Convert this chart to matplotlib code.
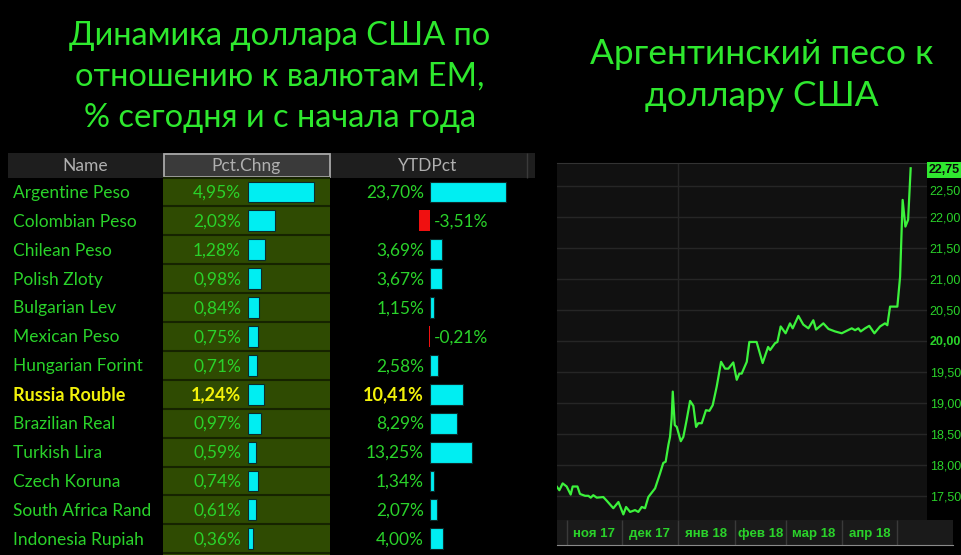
import numpy as np
import matplotlib
matplotlib.use("Agg")
import matplotlib.pyplot as plt
from matplotlib.patches import Rectangle
from matplotlib.transforms import blended_transform_factory

# table data (left panel)
names = ["Argentine Peso", "Colombian Peso", "Chilean Peso", "Polish Zloty",
         "Bulgarian Lev", "Mexican Peso", "Hungarian Forint", "Russia Rouble",
         "Brazilian Real", "Turkish Lira", "Czech Koruna", "South Africa Rand",
         "Indonesia Rupiah"]
pct_chng = [4.95, 2.03, 1.28, 0.98, 0.84, 0.75, 0.71, 1.24, 0.97, 0.59, 0.74, 0.61, 0.36]
ytd_pct = [23.70, -3.51, 3.69, 3.67, 1.15, -0.21, 2.58, 10.41, 8.29, 13.25, 1.34, 2.07, 4.00]
highlight = "Russia Rouble"
headers = ["Name", "Pct.Chng", "YTDPct"]

# USD/ARS line (days counted from 1 Nov 2017)
days = [-5.7, -4.2, -2.4, -0.2, 2.0, 3.1, 5.7, 7.1, 9.9, 11.7, 13.0, 14.4, 16.3, 19.9,
        21.8, 25.4, 28.2, 30.9, 32.4, 34.6, 37.3, 39.1, 41.0, 42.8, 44.6, 48.3, 51.0,
        52.8, 54.1, 55.6, 56.5, 57.4, 58.0, 59.1, 60.2, 62.4, 63.8, 65.6, 67.5, 69.3,
        70.8, 72.0, 73.9, 76.2, 78.1, 79.9, 82.1, 84.5, 86.7, 88.5, 91.2, 93.1, 94.5,
        95.8, 98.6, 100.0, 104.0, 107.3, 110.3, 111.4, 114.1, 115.4, 117.2, 119.9,
        122.3, 123.8, 126.9, 129.6, 132.4, 135.1, 136.6, 140.6, 143.4, 147.0, 150.7,
        153.4, 156.2, 158.0, 159.8, 161.1, 163.5, 165.8, 168.6, 171.7, 174.4, 175.7,
        177.2, 181.2, 182.7, 184.1, 185.6, 187.1, 188.5]
peso = [17.65, 17.59, 17.70, 17.65, 17.52, 17.65, 17.65, 17.53, 17.50, 17.50, 17.47,
        17.51, 17.47, 17.48, 17.42, 17.30, 17.40, 17.20, 17.32, 17.24, 17.27, 17.24,
        17.32, 17.30, 17.48, 17.62, 17.86, 18.03, 18.05, 18.32, 18.45, 18.75, 19.18,
        18.64, 18.61, 18.38, 18.45, 18.72, 19.03, 18.95, 18.61, 18.67, 18.67, 18.88,
        18.87, 18.96, 19.26, 19.66, 19.55, 19.55, 19.65, 19.37, 19.47, 19.47, 19.66,
        19.98, 19.98, 19.64, 19.90, 19.85, 19.96, 19.98, 20.23, 20.12, 20.28, 20.20,
        20.40, 20.26, 20.20, 20.33, 20.18, 20.28, 20.19, 20.15, 20.12, 20.16, 20.20,
        20.17, 20.20, 20.15, 20.20, 20.24, 20.12, 20.23, 20.28, 20.25, 20.55, 20.55,
        21.03, 22.27, 21.84, 21.95, 22.78]
month_starts = [0, 30, 61, 92, 120, 151, 181]
month_labels = ["ноя 17", "дек 17", "янв 18", "фев 18", "мар 18", "апр 18"]
y_levels = [17.5, 18.0, 18.5, 19.0, 19.5, 20.0, 20.5, 21.0, 21.5, 22.0, 22.5]
last_value = 22.75

W, H = 962, 555
TITLE_GREEN = "#2ee82e"
GREEN = "#2ad22a"
OLIVE = "#2f4b02"
CYAN = "#00eef2"
AXFONT = ["Liberation Sans", "DejaVu Sans"]

plt.rcParams["font.family"] = ["Lato", "Open Sans", "DejaVu Sans"]


def box(x0, y0, x1, y1):
    # pixel box (top-left origin) -> figure fraction
    return [x0 / W, 1 - y1 / H, (x1 - x0) / W, (y1 - y0) / H]


def fmt(v):
    return f"{v:.2f}".replace(".", ",") + "%"


fig = plt.figure(figsize=(W / 100, H / 100), dpi=100, facecolor="black")

fig.text(280 / W, 1 - 77 / H, "Динамика доллара США по\nотношению к валютам EM,\n% сегодня и с начала года",
         ha="center", va="center", color=TITLE_GREEN, fontsize=23.5, linespacing=1.45)
fig.text(762 / W, 1 - 75 / H, "Аргентинский песо к\nдоллару США",
         ha="center", va="center", color=TITLE_GREEN, fontsize=25.5, linespacing=1.4)

# ---------- table ----------
ROW0, ROW_H = 192, 28.9


def row_of(py):
    return (py - ROW0) / ROW_H


ylim = (row_of(555), row_of(150))
rows = np.arange(len(names))

tab = fig.add_axes(box(0, 150, 540, 555))
tab.set_xlim(0, 540)
tab.set_ylim(*ylim)
tab.axis("off")

tab.add_patch(Rectangle((163, -0.5), 167, 14, fc=OLIVE, ec="none"))
tab.hlines(np.arange(-0.5, 13.6, 1), 163, 330, color="#162300", lw=1.5)
tab.add_patch(Rectangle((8, row_of(153)), 527, row_of(177.5) - row_of(153), fc="#1e1e1e", ec="none"))
tab.vlines(527, row_of(153), row_of(177.5), color="#3a3a3a", lw=1)
tab.add_patch(Rectangle((163.5, row_of(154)), 166, row_of(177) - row_of(154),
                        fc="#3a3a3a", ec="#a8a8a8", lw=1.3))
for x, h in zip([85, 246, 428], headers):
    tab.text(x, row_of(166), h, ha="center", va="center", color="#b0b0b0", fontsize=12.5)

for i, (n, p, y) in enumerate(zip(names, pct_chng, ytd_pct)):
    hl = n == highlight
    col = "#f2f20a" if hl else GREEN
    w = "bold" if hl else "normal"
    fs = 13 if hl else 12.5
    tab.text(13, i + 0.03, n, ha="left", va="center", color=col, fontsize=fs, fontweight=w)
    tab.text(241, i + 0.03, fmt(p), ha="right", va="center", color=col, fontsize=fs, fontweight=w)
    if y >= 0:
        tab.text(424, i + 0.03, fmt(y), ha="right", va="center", color=col, fontsize=fs, fontweight=w)
    else:
        tab.text(434, i + 0.03, fmt(y), ha="left", va="center", color=col, fontsize=fs, fontweight=w)

ax_pct = fig.add_axes(box(248, 150, 330, 555))
ax_pct.set_xlim(0, 82 / 13.3)
ax_pct.set_ylim(*ylim)
ax_pct.barh(rows, pct_chng, height=0.72, color=CYAN, edgecolor="#0b2a2a", lw=0.8)
ax_pct.axis("off")

ax_ytd = fig.add_axes(box(330, 150, 530, 555))
ax_ytd.set_xlim(-100 / 3.2, 100 / 3.2)
ax_ytd.set_ylim(*ylim)
ax_ytd.barh(rows, ytd_pct, height=0.72,
            color=[CYAN if v >= 0 else "#f01010" for v in ytd_pct],
            edgecolor=["#0b2a2a" if v >= 0 else "none" for v in ytd_pct], lw=0.8)
ax_ytd.axis("off")

# ---------- line chart ----------
PX_DAY = 1.823
x_left = -5.5
ax = fig.add_axes(box(557, 162.7, 927, 520))
ax.set_facecolor("#111111")
ax.set_xlim(x_left, x_left + (927 - 557) / PX_DAY)
ax.set_ylim(17.11, 22.87)
for s in ["left", "right", "bottom"]:
    ax.spines[s].set_visible(False)
ax.spines["top"].set_color("#333333")
ax.set_yticks(y_levels)
ax.set_yticklabels(["" if v == 22.5 else f"{v:.2f}".replace(".", ",") for v in y_levels])
ax.yaxis.tick_right()
ax.tick_params(axis="y", length=0, pad=2, labelcolor=GREEN, labelsize=9)
for lab in ax.get_yticklabels():
    lab.set_family(AXFONT)
    if lab.get_text() == "20,00":
        lab.set_fontweight("bold")
ax.set_xticks([])
ax.grid(axis="y", color="#262626", lw=1)
ax.axvline(month_starts[2], color="#262626", lw=1)
ax.plot(days, peso, color="#3cf23c", lw=1.6)

tr = blended_transform_factory(ax.transAxes, ax.transData)
ax.text(1 + 2 / 370, 22.5, "22,50", transform=tr, ha="left", va="top", color=GREEN,
        fontsize=9, family=AXFONT, clip_on=False)
ax.text(1 + 2 / 370, last_value, f"{last_value:.2f}".replace(".", ","), transform=tr,
        ha="left", va="center", color="#0a0a0a", fontsize=9, fontweight="bold", family=AXFONT,
        clip_on=False, bbox=dict(boxstyle="square,pad=0.15", fc="#30e830", ec="none"))

axb = fig.add_axes(box(557, 520, 953, 545))
axb.set_facecolor("#1a1a1a")
axb.set_xlim(x_left, x_left + (953 - 557) / PX_DAY)
axb.set_ylim(0, 1)
axb.vlines(month_starts, 0, 1, color="#3a3a3a", lw=1)
mids = [(a + b) / 2 for a, b in zip(month_starts[:-1], month_starts[1:])]
for m, lab in zip(mids, month_labels):
    axb.text(m, 0.45, lab, ha="center", va="center", color=GREEN, fontsize=9.5,
             fontweight="bold", family=AXFONT)
axb.set_xticks([])
axb.set_yticks([])
for s in ["left", "right", "top"]:
    axb.spines[s].set_visible(False)
axb.spines["bottom"].set_color("#8a8a8a")

axr = fig.add_axes(box(927, 162.7, 953, 520), zorder=-1)
axr.set_facecolor("#0b0b0b")
axr.axis("off")
axr.patch.set_visible(True)

fig.savefig("out.png", dpi=100, facecolor="black")
